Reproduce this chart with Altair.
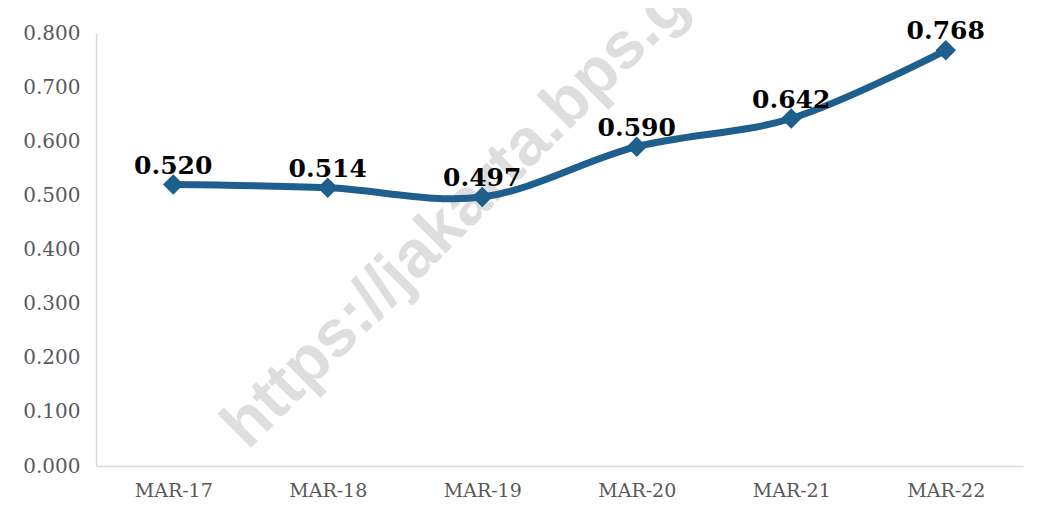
import altair as alt
import pandas as pd

periods = ["MAR-17", "MAR-18", "MAR-19", "MAR-20", "MAR-21", "MAR-22"]
values = [0.520, 0.514, 0.497, 0.590, 0.642, 0.768]
y_ticks = [0.0, 0.1, 0.2, 0.3, 0.4, 0.5, 0.6, 0.7, 0.8]
watermark = "https://jakarta.bps.go.id"

df = pd.DataFrame({"period": periods, "value": values})
df["label"] = [f"{v:.3f}" for v in values]

LINE = "#1f5f8e"

x_enc = alt.X(
    "period:N", sort=periods, title=None,
    scale=alt.Scale(type="point", padding=0.5),
    axis=alt.Axis(labelAngle=0, labelFont="DejaVu Serif", labelFontSize=19,
                  labelColor="#595959", labelPadding=15, ticks=False,
                  domainColor="#d9d9d9", domainWidth=1.5, grid=False),
)
y_enc = alt.Y(
    "value:Q", title=None,
    scale=alt.Scale(domain=[0, 0.8], nice=False, zero=True),
    axis=alt.Axis(values=y_ticks, format=".3f", labelFont="DejaVu Serif",
                  labelFontSize=20, labelColor="#595959", labelPadding=16,
                  ticks=False, domainColor="#d9d9d9", domainWidth=1.5, grid=False),
)

base = alt.Chart(df)

wm = alt.Chart(pd.DataFrame({"t": [watermark]})).mark_text(
    font="Liberation Sans", fontWeight="bold", fontSize=66, color="#dedede",
    angle=315, align="left", baseline="alphabetic",
).encode(text="t:N", x=alt.value(152), y=alt.value(418))

line = base.mark_line(color=LINE, strokeWidth=7, interpolate="catmull-rom").encode(
    x=x_enc, y=y_enc)
pts = base.mark_point(shape="diamond", filled=True, color=LINE, opacity=1,
                      size=420).encode(x=x_enc, y=y_enc)
labels = base.mark_text(font="DejaVu Serif", fontWeight="bold", fontSize=25,
                        color="black", baseline="alphabetic", dy=-11).encode(
    x=x_enc, y=y_enc, text="label:N")

chart = alt.layer(wm, line, pts, labels).properties(
    width=927, height=433,
    background="white",
    autosize=alt.AutoSizeParams(type="none"),
    padding={"left": 88, "top": 25, "right": 5, "bottom": 37},
).configure_view(strokeWidth=0, stroke="transparent")

chart.save("out.html", embed_options={"renderer": "svg", "actions": False})
